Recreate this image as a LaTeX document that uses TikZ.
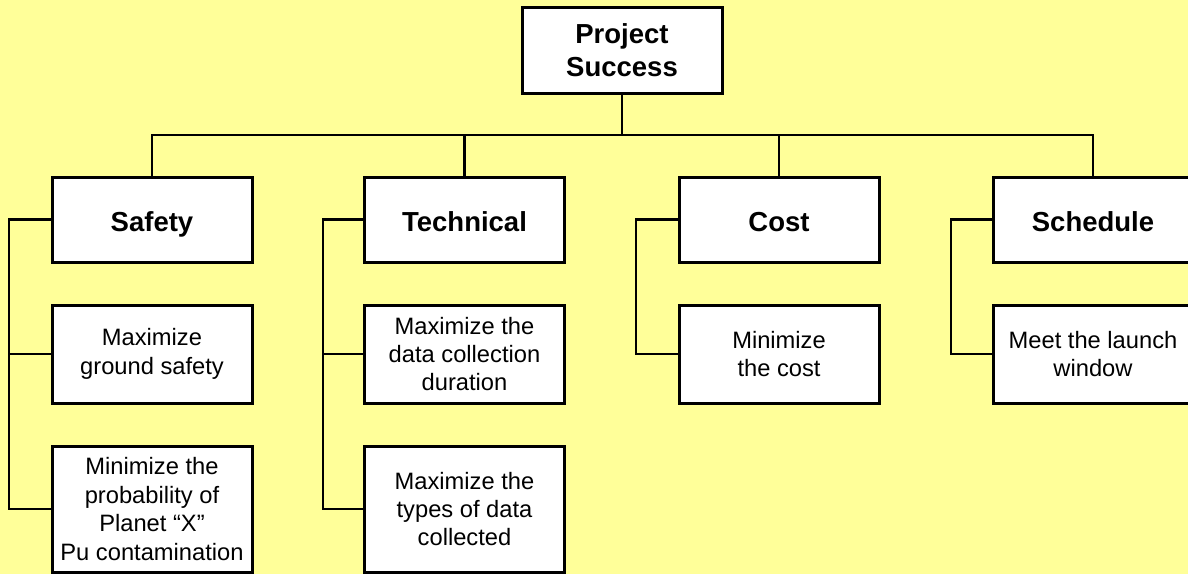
\documentclass[tikz,border=0pt]{standalone}
\usepackage{fontspec}
\setmainfont{Liberation Sans}
\definecolor{bgyellow}{HTML}{FFFF99}
\begin{document}
\begin{tikzpicture}[x=1pt,y=-1pt,
  box/.style={draw=black, fill=white, line width=3pt, inner sep=0pt, align=center, text=black},
  head/.style={box, minimum width=200pt, minimum height=85pt, font=\fontsize{27.5}{33}\selectfont\bfseries},
  headone/.style={head, text height=23pt, text depth=0pt},
  sub/.style={box, minimum width=200pt, font=\fontsize{23.7}{28.4}\selectfont},
  conn/.style={draw=black, line width=2.5pt}]
\useasboundingbox (0,0) rectangle (1188,574);
\fill[bgyellow] (0,0) rectangle (1188,574);
\begin{scope}
\clip (0,0) rectangle (1188,574);
% top
\node[head, minimum height=86pt] (ps) at (622,50) {Project\\Success};
% level 1
\node[headone] (saf) at (152,219.5) {Safety};
\node[headone] (tec) at (464.5,219.5) {Technical};
\node[headone] (cos) at (779,219.5) {Cost};
\node[headone] (sch) at (1093,219.5) {Schedule};
% level 2
\node[sub, minimum height=98pt] (s1) at (152,354) {Maximize\\ground safety};
\node[sub, minimum height=126pt] (s2) at (152,509) {Minimize the\\probability of\\Planet “X”\\Pu contamination};
\node[sub, minimum height=98pt] (t1) at (464.5,354) {Maximize the\\data collection\\duration};
\node[sub, minimum height=126pt] (t2) at (464.5,509) {Maximize the\\types of data\\collected};
\node[sub, minimum height=98pt] (c1) at (779,354) {Minimize\\the cost};
\node[sub, minimum height=98pt] (h1) at (1093,354) {Meet the launch\\window};
% bus coordinates
\coordinate (bus) at (622,135);
\coordinate (sb) at (9,219.5);
\coordinate (tb) at (323,219.5);
\coordinate (cb) at (636,219.5);
\coordinate (hb) at (951,219.5);
% connectors
\draw[conn] (ps.south) -- (bus);
\draw[conn] (saf.north) |- (bus) -| (sch.north);
\draw[conn] (tec.north) -- (tec.north |- bus);
\draw[conn] (cos.north) -- (cos.north |- bus);
\draw[conn] (saf.west) -- (sb) |- (s2.west);
\draw[conn] (s1.west) -- (s1.west -| sb);
\draw[conn] (tec.west) -- (tb) |- (t2.west);
\draw[conn] (t1.west) -- (t1.west -| tb);
\draw[conn] (cos.west) -- (cb) |- (c1.west);
\draw[conn] (sch.west) -- (hb) |- (h1.west);
\end{scope}
\end{tikzpicture}
\end{document}
